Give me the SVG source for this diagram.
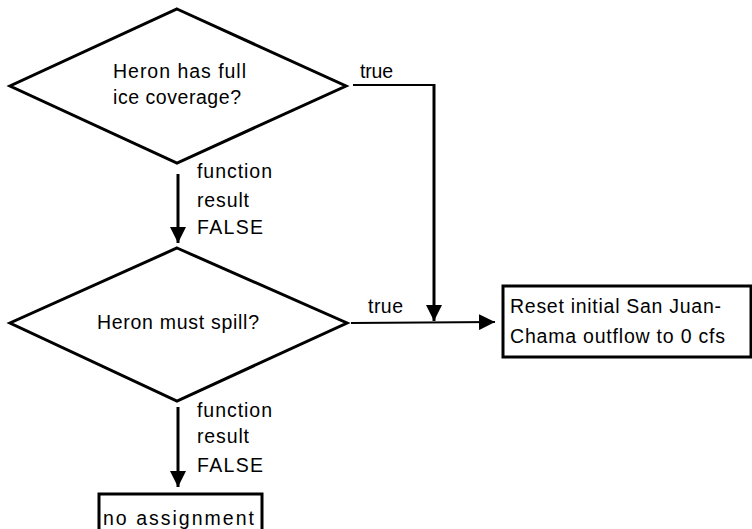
<svg xmlns="http://www.w3.org/2000/svg" width="752" height="529" viewBox="0 0 752 529">
<defs>
<marker id="ah" viewBox="0 0 10 10" refX="10" refY="5" markerWidth="5.5" markerHeight="5.5" markerUnits="strokeWidth" orient="auto">
<path d="M0,0 L10,5 L0,10 z" fill="#000"/>
</marker>
<marker id="ah2" viewBox="0 0 10 10" refX="10" refY="5" markerWidth="8" markerHeight="8" markerUnits="strokeWidth" orient="auto">
<path d="M0,0 L10,5 L0,10 z" fill="#000"/>
</marker>
</defs>
<style>
.s{fill:#fff;stroke:#000;stroke-width:3}
.t{font-family:"Liberation Sans",Arial,sans-serif;font-size:19.5px;fill:#000}
.c{fill:none;stroke:#000}
</style>
<rect width="752" height="529" fill="#fff"/>
<g id="n1">
<polygon class="s" points="177,9 346,86 177,163 10,86"/>
<text class="t" x="113" y="78" textLength="133" lengthAdjust="spacing">Heron has full</text>
<text class="t" x="113" y="104" textLength="128" lengthAdjust="spacing">ice coverage?</text>
</g>
<g id="n2">
<polygon class="s" points="177,248 347,323 177,401 10,323"/>
<text class="t" x="97" y="329" textLength="162" lengthAdjust="spacing">Heron must spill?</text>
</g>
<g id="n3">
<rect class="s" x="503" y="286" width="248" height="71"/>
<text class="t" x="510" y="313" textLength="211" lengthAdjust="spacing">Reset initial San Juan-</text>
<text class="t" x="510" y="343" textLength="215" lengthAdjust="spacing">Chama outflow to 0 cfs</text>
</g>
<g id="n4">
<rect class="s" x="99" y="494" width="163" height="45"/>
<text class="t" x="103" y="525" textLength="151" lengthAdjust="spacing">no assignment</text>
</g>
<g id="connectors">
<line class="c" x1="178" y1="174" x2="178" y2="243" stroke-width="3" marker-end="url(#ah)"/>
<line class="c" x1="178" y1="407" x2="178" y2="487" stroke-width="3" marker-end="url(#ah)"/>
<polyline class="c" points="353,85 434,85" stroke-width="2.2"/>
<line class="c" x1="434" y1="84" x2="434" y2="321" stroke-width="3" marker-end="url(#ah)"/>
<line class="c" x1="351" y1="323" x2="495" y2="322" stroke-width="2" marker-end="url(#ah2)"/>
<text class="t" x="360" y="78" textLength="33" lengthAdjust="spacing">true</text>
<text class="t" x="368" y="313" textLength="35" lengthAdjust="spacing">true</text>
<text class="t" x="197" y="178" textLength="75" lengthAdjust="spacing">function</text>
<text class="t" x="197" y="207" textLength="52" lengthAdjust="spacing">result</text>
<text class="t" x="197" y="234" textLength="66" lengthAdjust="spacing">FALSE</text>
<text class="t" x="197" y="417" textLength="75" lengthAdjust="spacing">function</text>
<text class="t" x="197" y="443" textLength="52" lengthAdjust="spacing">result</text>
<text class="t" x="197" y="472" textLength="66" lengthAdjust="spacing">FALSE</text>
</g>
</svg>
